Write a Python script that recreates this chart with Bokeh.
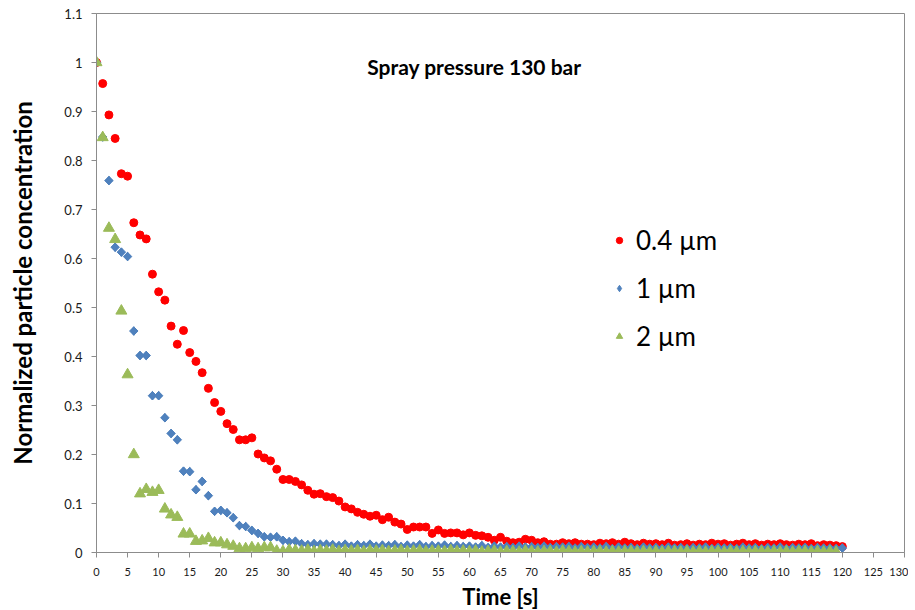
import math
from bokeh.plotting import figure
from bokeh.models import Range1d, FixedTicker, Legend, LegendItem, Label, CustomJSTickFormatter
from bokeh.embed import file_html
from bokeh.resources import INLINE

# ---------------- data ----------------
red_04um = [
    1.000, 0.957, 0.893, 0.845, 0.773, 0.768, 0.673, 0.648, 0.640, 0.568,
    0.532, 0.515, 0.462, 0.425, 0.453, 0.408, 0.390, 0.367, 0.335, 0.306,
    0.288, 0.263, 0.251, 0.230, 0.230, 0.234, 0.201, 0.193, 0.187, 0.170,
    0.149, 0.149, 0.145, 0.138, 0.127, 0.119, 0.120, 0.114, 0.112, 0.105,
    0.093, 0.089, 0.082, 0.078, 0.074, 0.076, 0.067, 0.072, 0.062, 0.058,
    0.047, 0.052, 0.052, 0.052, 0.039, 0.046, 0.039, 0.040, 0.040, 0.036,
    0.040, 0.035, 0.034, 0.031, 0.025, 0.031, 0.023, 0.020, 0.021, 0.027,
    0.025, 0.020, 0.022, 0.017, 0.017, 0.020, 0.018, 0.020, 0.017, 0.017,
    0.016, 0.019, 0.018, 0.020, 0.017, 0.021, 0.018, 0.016, 0.019, 0.017,
    0.018, 0.016, 0.019, 0.015, 0.016, 0.018, 0.015, 0.017, 0.016, 0.019,
    0.017, 0.018, 0.015, 0.017, 0.019, 0.016, 0.018, 0.015, 0.017, 0.016,
    0.018, 0.016, 0.015, 0.017, 0.016, 0.018, 0.014, 0.016, 0.015, 0.014,
    0.012,
]

blue_1um = [
    1.000, 0.848, 0.759, 0.623, 0.613, 0.604, 0.452, 0.402, 0.402, 0.320,
    0.320, 0.275, 0.243, 0.230, 0.166, 0.165, 0.128, 0.145, 0.116, 0.084,
    0.086, 0.081, 0.071, 0.055, 0.053, 0.045, 0.039, 0.032, 0.031, 0.032,
    0.025, 0.022, 0.023, 0.018, 0.016, 0.018, 0.017, 0.017,
    0.016, 0.014, 0.017, 0.013, 0.016, 0.014, 0.017, 0.013, 0.015, 0.014,
    0.016, 0.012, 0.015, 0.013, 0.016, 0.012, 0.014, 0.013, 0.015, 0.012,
    0.014, 0.012,
    0.013, 0.011, 0.014, 0.010, 0.013, 0.011, 0.012, 0.010, 0.013, 0.011,
    0.012, 0.010, 0.013, 0.010, 0.012, 0.011, 0.012, 0.009, 0.012, 0.010,
    0.011, 0.009, 0.012, 0.008, 0.011, 0.009, 0.010, 0.008, 0.011, 0.009,
    0.010, 0.008, 0.011, 0.009, 0.010, 0.008, 0.010, 0.009, 0.011, 0.008,
    0.010, 0.009, 0.010, 0.008, 0.011, 0.009, 0.010, 0.008, 0.010, 0.009,
    0.011, 0.008, 0.010, 0.009, 0.010, 0.008, 0.010, 0.009, 0.009, 0.008,
    0.009,
]

green_2um = [
    1.000, 0.847, 0.662, 0.639, 0.493, 0.363, 0.200, 0.120, 0.129, 0.123,
    0.127, 0.089, 0.077, 0.072, 0.038, 0.038, 0.023, 0.024, 0.029, 0.020,
    0.020, 0.016, 0.013, 0.008, 0.008, 0.010, 0.008, 0.010, 0.010, 0.003,
    0.002, 0.005,
    0.004, 0.003, 0.005, 0.002, 0.004, 0.003, 0.005, 0.002, 0.004, 0.003,
    0.004, 0.002, 0.004, 0.003, 0.004, 0.002, 0.003, 0.004, 0.002, 0.003,
    0.004, 0.002, 0.003, 0.003, 0.002, 0.004, 0.002, 0.003,
    0.002, 0.003, 0.001, 0.002, 0.003, 0.001, 0.002, 0.002, 0.001, 0.003,
    0.002, 0.001, 0.002, 0.002, 0.001, 0.003, 0.002, 0.001, 0.002, 0.001,
    0.002, 0.002, 0.001, 0.002, 0.001, 0.002, 0.002, 0.001, 0.002, 0.001,
    0.002, 0.001, 0.002, 0.002, 0.001, 0.002, 0.001, 0.002, 0.001, 0.002,
    0.002, 0.001, 0.002, 0.001, 0.002, 0.001, 0.002, 0.002, 0.001, 0.002,
    0.001, 0.002, 0.001, 0.002, 0.002, 0.001, 0.002, 0.001, 0.002, 0.001,
]

time_red = list(range(len(red_04um)))
time_blue = list(range(len(blue_1um)))
time_green = list(range(len(green_2um)))

series_labels = ["0.4 µm", "1 µm", "2 µm"]
x_ticks = list(range(0, 131, 5))
y_ticks = [0.0, 0.1, 0.2, 0.3, 0.4, 0.5, 0.6, 0.7, 0.8, 0.9, 1.0, 1.1]
title_text = "Spray pressure 130 bar"
x_label = "Time [s]"
y_label = "Normalized particle concentration"

FONT = "Lato"
AXIS_GRAY = "#8c8c8c"
RED, BLUE, GREEN = "#ff0000", "#4f81bd", "#9bbb59"

p = figure(
    output_backend="svg", toolbar_location=None,
    frame_width=808, frame_height=539,
    x_range=Range1d(0, 130), y_range=Range1d(0, 1.1),
    min_border_left=96, min_border_top=13, min_border_right=4, min_border_bottom=40,
    background_fill_color="white", border_fill_color="white",
)
p.outline_line_color = AXIS_GRAY
p.outline_line_width = 1
p.grid.visible = False

# axes
for ax in (p.xaxis[0], p.yaxis[0]):
    ax.axis_line_color = AXIS_GRAY
    ax.major_tick_line_color = AXIS_GRAY
    ax.minor_tick_line_color = None
    ax.major_tick_in = 0
    ax.major_tick_out = 5
    ax.major_label_text_font = FONT
    ax.major_label_text_color = "#1a1a1a"
    ax.axis_label_text_font = FONT
    ax.axis_label_text_font_style = "bold"
    ax.axis_label_text_color = "#000000"

p.xaxis.ticker = FixedTicker(ticks=x_ticks)
p.xaxis.major_label_text_font_size = "11px"
p.xaxis.major_label_standoff = 10
p.xaxis.axis_label = x_label
p.xaxis.axis_label_text_font_size = "22px"
p.xaxis.axis_label_standoff = 4

p.yaxis.ticker = FixedTicker(ticks=y_ticks)
p.yaxis.formatter = CustomJSTickFormatter(code="""
    const s = tick.toFixed(1);
    return s.endsWith('.0') ? s.slice(0, -2) : s;
""")
p.yaxis.major_label_text_font_size = "13px"
p.yaxis.major_label_standoff = 9
p.yaxis.axis_label = y_label
p.yaxis.axis_label_text_font_size = "24px"
p.yaxis.axis_label_standoff = 24

# series
r_red = p.scatter(time_red, red_04um, marker="circle", size=8,
                  fill_color=RED, line_color=RED)
# narrow diamonds under the rotated squares: they serve as the legend key
r_blue_key = p.scatter(time_blue, blue_1um, marker="diamond", size=8.5,
                       fill_color=BLUE, line_color=BLUE)
r_blue = p.scatter(time_blue, blue_1um, marker="square", size=6, angle=math.pi / 4,
                   fill_color=BLUE, line_color=BLUE)
r_green = p.scatter(time_green, green_2um, marker="triangle", size=11,
                    fill_color=GREEN, line_color=GREEN)

legend = Legend(
    items=[LegendItem(label=series_labels[0], renderers=[r_red]),
           LegendItem(label=series_labels[1], renderers=[r_blue_key]),
           LegendItem(label=series_labels[2], renderers=[r_green])],
    location=(515, 200),
    label_text_font=FONT, label_text_font_size="26px", label_text_color="#000000",
    glyph_width=16, glyph_height=20, label_standoff=9, spacing=16,
    padding=0, border_line_color=None, background_fill_alpha=0,
)
p.add_layout(legend, "center")

p.add_layout(Label(x=60.8, y=0.992, text=title_text, text_align="center",
                   text_baseline="middle", text_font=FONT, text_font_style="bold",
                   text_font_size="21px", text_color="#000000"))

open("out.html", "w").write(file_html(p, INLINE))
